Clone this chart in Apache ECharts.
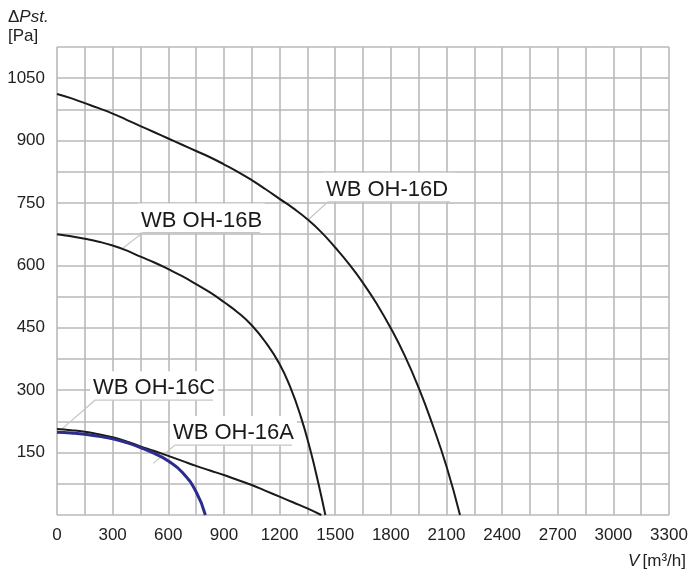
<!DOCTYPE html>
<html>
<head>
<meta charset="utf-8">
<script src="https://cdn.jsdelivr.net/npm/echarts@6/dist/echarts.min.js"></script>
<style>
html,body{margin:0;padding:0;background:#fff;}
#chart{width:691px;height:576px;}
</style>
</head>
<body>
<div id="chart"></div>
<script>
// Airflow V [m3/h] vs static pressure ΔPst [Pa]
const curveD = [[0,1012],[75,1002],[150,990],[225,978],[300,965],[375,950],[450,935],[525,920],[600,905],[675,890],[750,875],[825,860],[900,843],[975,825],[1050,805],[1125,783],[1200,760],[1275,737],[1350,711],[1425,680],[1500,643],[1575,603],[1650,558],[1725,507],[1800,449],[1875,383],[1950,306],[2025,217],[2100,117],[2173,0]];
const curveB = [[0,675],[75,670],[150,664],[225,657],[300,648],[375,636],[450,621],[525,607],[600,591],[675,574],[750,555],[825,535],[900,512],[975,487],[1050,456],[1125,415],[1200,363],[1260,305],[1315,236],[1365,158],[1410,75],[1447,0]];
const curveC = [[0,207],[75,204],[150,200],[225,194],[300,187],[375,177],[450,165],[525,154],[600,142],[675,130],[750,118],[825,107],[900,96],[975,84],[1050,72],[1125,58],[1200,44],[1275,30],[1350,16],[1425,0]];
const curveA = [[0,199],[75,197],[150,194],[225,189],[300,183],[375,174],[450,162],[525,148],[600,130],[675,103],[750,56],[800,0]];

const seriesNames = ['WB OH-16D','WB OH-16B','WB OH-16C','WB OH-16A'];
// annotation: [anchorX, anchorY, lineStartX, lineEndX, lineY] in data units
const labelRows = [
  [1353,709,1461,2119,753],
  [356,642,464,1095,679],
  [27,207,205,841,276],
  [519,124,636,1267,168]
];

const xMax = 3300, xStep = 150;
const yMax = 1125, yStep = 75;

const FONT = '"Liberation Sans", Arial, sans-serif';
const chart = echarts.init(document.getElementById('chart'), null, {renderer:'canvas'});

const gridLine = {show:true, lineStyle:{color:'#b9b9b9', width:1.6}};

function curve(name, data, color, width){
  return {
    name, type:'line', data, z:3, smooth:0.5,
    showSymbol:false, symbol:'none', silent:true,
    lineStyle:{color, width}
  };
}

chart.setOption({
  animation:false,
  backgroundColor:'#fff',
  grid:{left:57, right:22, top:47, bottom:61, containLabel:false, outerBoundsMode:'none'},
  xAxis:{
    type:'value', min:0, max:xMax, interval:xStep,
    axisLine:{show:false}, axisTick:{show:false},
    splitLine:gridLine,
    axisLabel:{
      margin:12, color:'#222', fontSize:17, fontFamily:FONT,
      formatter:v => (v % 300 === 0 ? String(v) : '')
    }
  },
  yAxis:{
    type:'value', min:0, max:yMax, interval:yStep,
    axisLine:{show:false}, axisTick:{show:false},
    splitLine:gridLine,
    axisLabel:{
      margin:12, color:'#222', fontSize:17, fontFamily:FONT,
      formatter:v => (v > 0 && v % 150 === 0 && v < yMax ? String(v) : '')
    }
  },
  graphic:[
    {type:'text', left:8, top:9, style:{
      text:'{n|Δ}{i|Pst.}\n{n|[Pa]}',
      rich:{
        n:{fontSize:17, fontFamily:FONT, fill:'#222', lineHeight:19},
        i:{fontSize:17, fontFamily:FONT, fontStyle:'italic', fill:'#222', lineHeight:19}
      }
    }},
    {type:'text', right:5, top:553, style:{
      text:'{i|V} {n|[m³/h]}',
      rich:{
        n:{fontSize:17, fontFamily:FONT, fill:'#222'},
        i:{fontSize:17, fontFamily:FONT, fontStyle:'italic', fill:'#222'}
      }
    }}
  ],
  series:[
    {
      type:'custom', z:1, silent:true, clip:false,
      data:labelRows,
      encode:{x:[0,2,3], y:[1,4]},
      renderItem:function(params, api){
        const anchor = api.coord([api.value(0), api.value(1)]);
        const start = api.coord([api.value(2), api.value(4)]);
        const end = api.coord([api.value(3), api.value(4)]);
        const name = seriesNames[params.dataIndex];
        return {type:'group', children:[
          {type:'rect', shape:{x:start[0]-5, y:start[1]-29, width:end[0]-start[0]+10, height:29}, style:{fill:'#fff'}},
          {type:'polyline', shape:{points:[anchor, start, end]}, style:{stroke:'#c6c6c6', lineWidth:1.2, fill:null}},
          {type:'text', x:start[0]-2, y:start[1]-12, style:{text:name, font:'22px ' + FONT, fill:'#1a1a1a', textAlign:'left', textVerticalAlign:'middle'}}
        ]};
      }
    },
    curve('WB OH-16D', curveD, '#1a1a1a', 2),
    curve('WB OH-16B', curveB, '#1a1a1a', 2),
    curve('WB OH-16C', curveC, '#1a1a1a', 2),
    curve('WB OH-16A', curveA, '#2c2c8c', 3)
  ]
});
</script>
</body>
</html>
